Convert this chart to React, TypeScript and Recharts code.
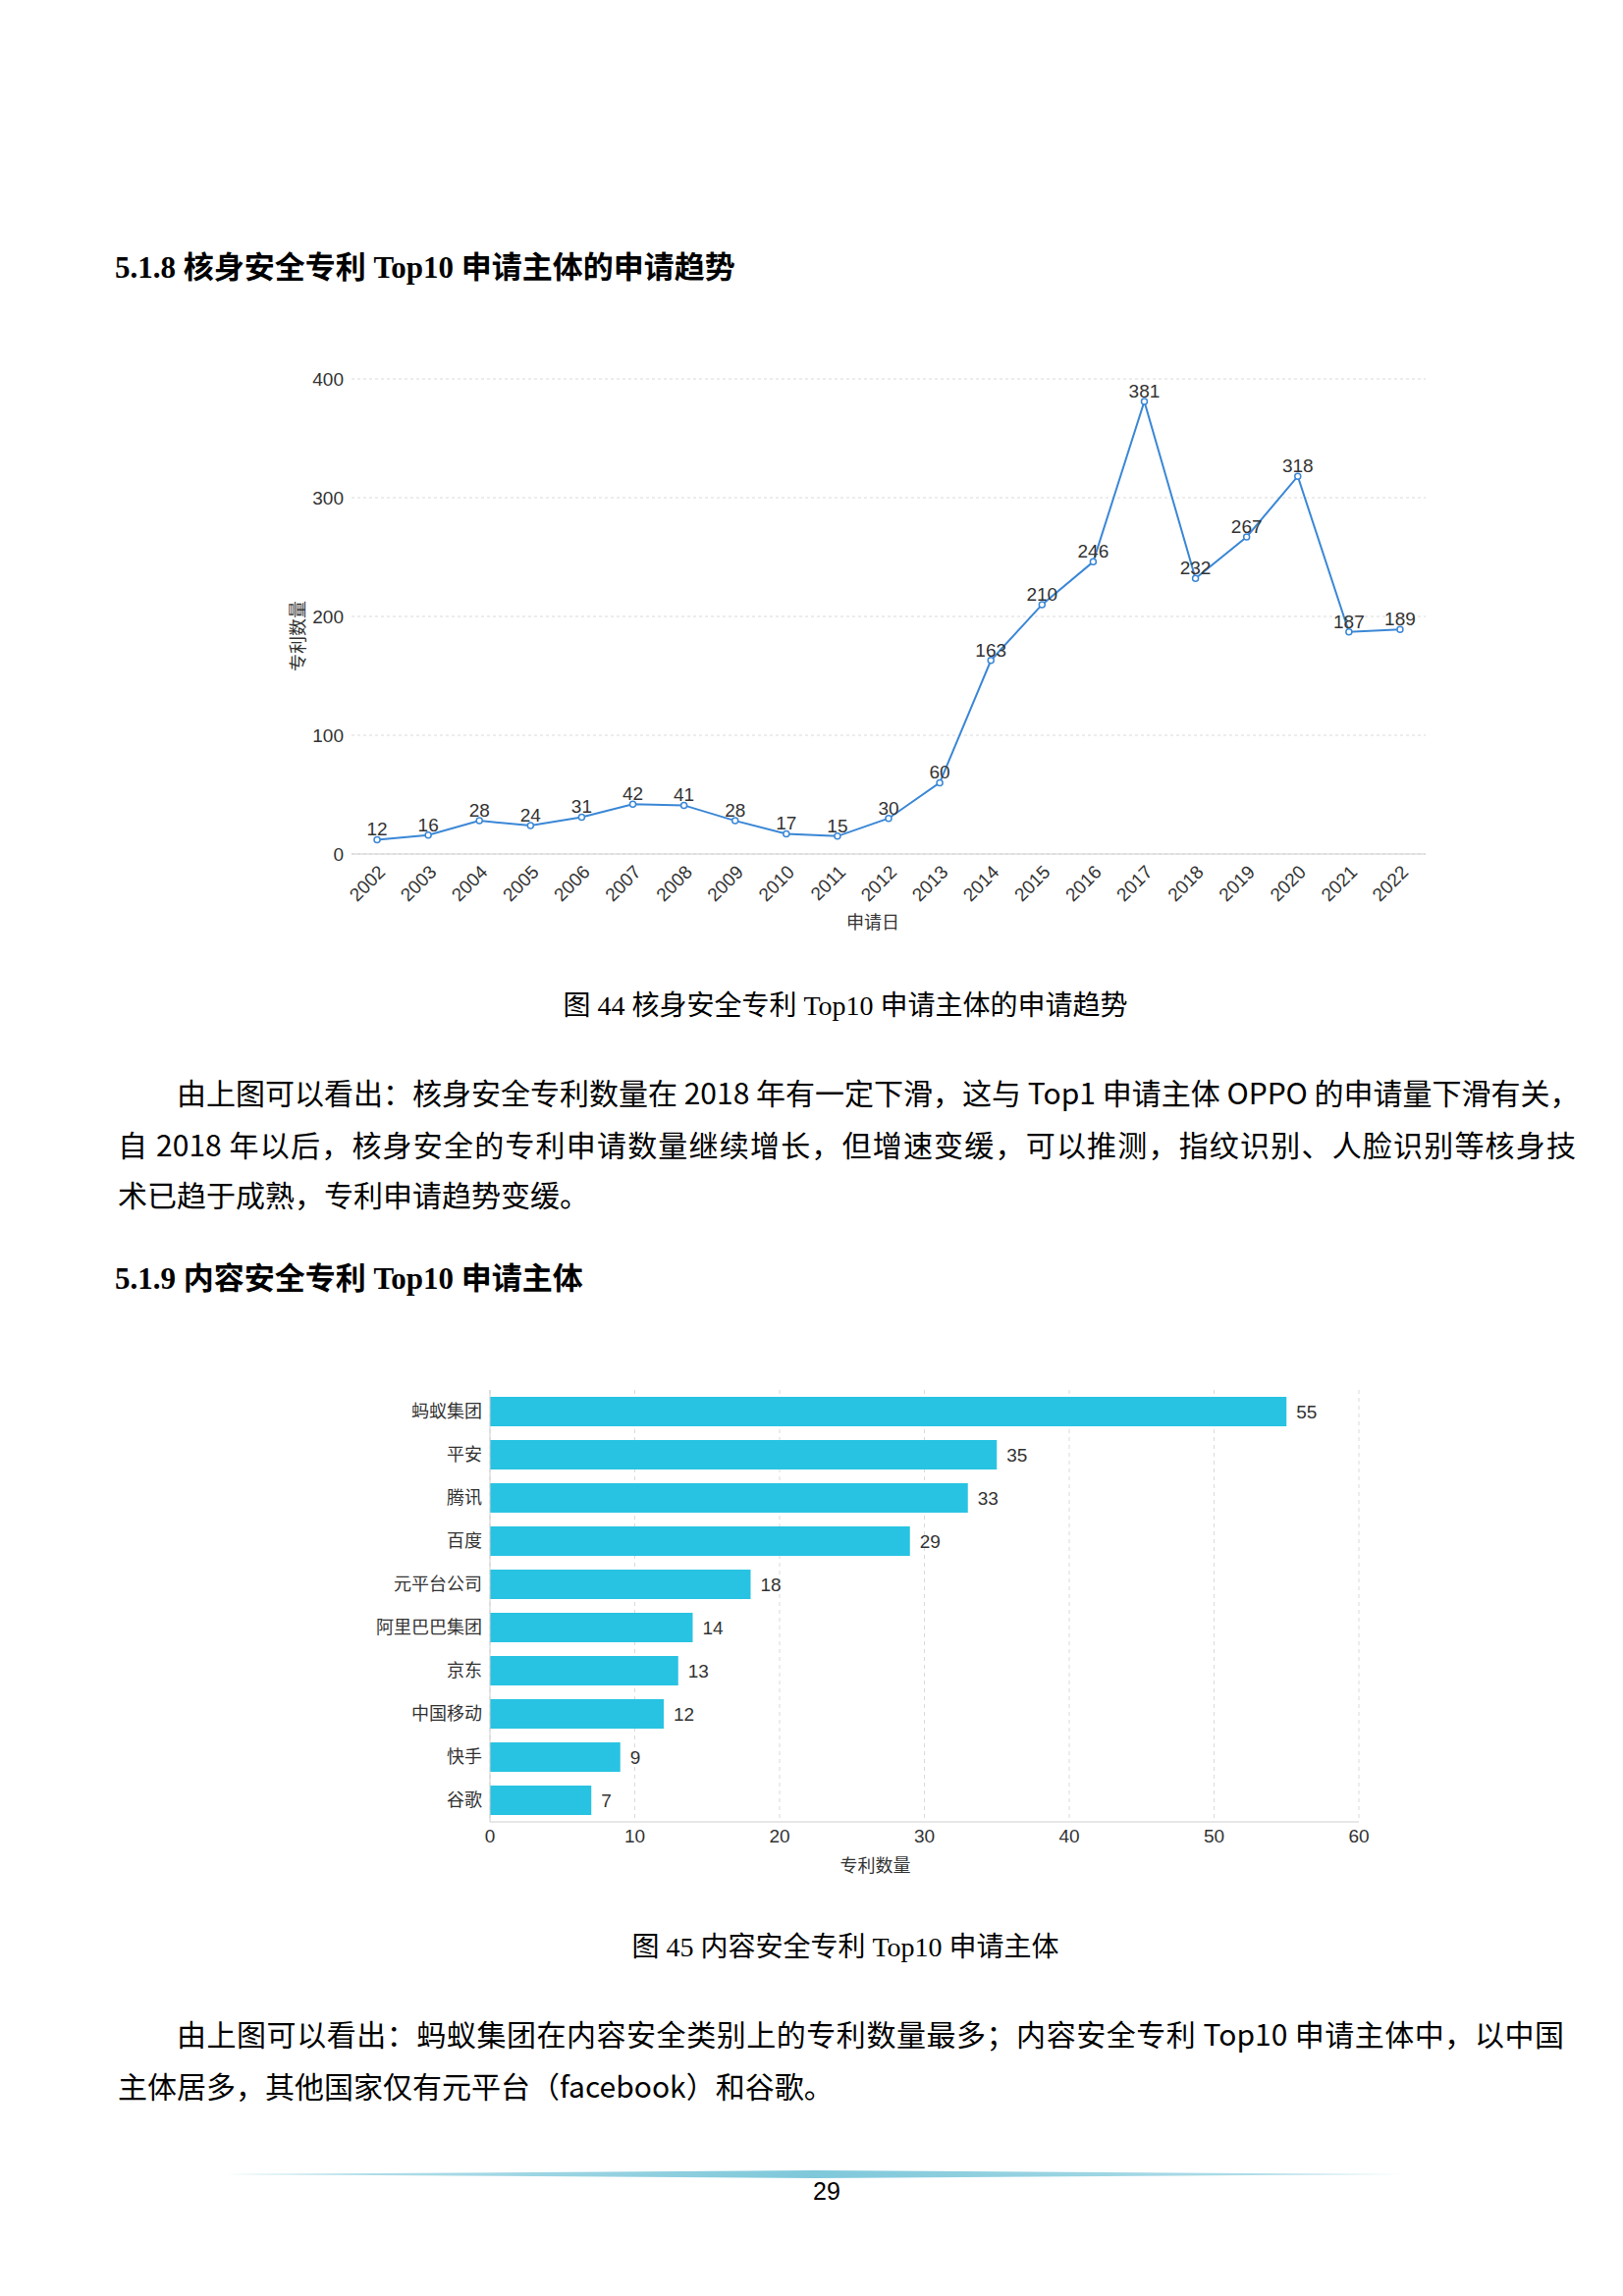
import React from 'react';
import {
  ComposedChart,
  Line,
  XAxis,
  YAxis,
  CartesianGrid,
  LabelList,
  BarChart,
  Bar,
} from 'recharts';

// ---- Chart 1: 核身安全专利 Top10 申请主体的申请趋势 ----
const years = [
  '2002', '2003', '2004', '2005', '2006', '2007', '2008', '2009', '2010', '2011',
  '2012', '2013', '2014', '2015', '2016', '2017', '2018', '2019', '2020', '2021', '2022',
];
const patentCounts = [12, 16, 28, 24, 31, 42, 41, 28, 17, 15, 30, 60, 163, 210, 246, 381, 232, 267, 318, 187, 189];
const trendTicks = [0, 100, 200, 300, 400];

// ---- Chart 2: 内容安全专利 Top10 申请主体 ----
const companies = ['蚂蚁集团', '平安', '腾讯', '百度', '元平台公司', '阿里巴巴集团', '京东', '中国移动', '快手', '谷歌'];
const companyCounts = [55, 35, 33, 29, 18, 14, 13, 12, 9, 7];
const countTicks = [0, 10, 20, 30, 40, 50, 60];

const trendData = years.map((y, i) => ({ year: y, count: patentCounts[i] }));
const companyData = companies.map((c, i) => ({ name: c, count: companyCounts[i] }));

const chartFont = '"Liberation Sans", Arial, "Noto Sans CJK SC", sans-serif';
const serifFont = '"Liberation Serif", "Times New Roman", "Noto Sans CJK SC", serif';
const bodyFont = '"Noto Sans CJK SC", "Liberation Sans", sans-serif';

const LINE_COLOR = '#3a87d6';
const BAR_COLOR = '#28c3e2';
const GRID_COLOR = '#dadada';
const AXIS_COLOR = '#cfcfcf';
const TEXT_COLOR = '#333333';

type TextLineProps = {
  top: number;
  left: number;
  width?: number;
  justify?: boolean;
  children: React.ReactNode;
};

const TextLine = ({ top, left, width, justify, children }: TextLineProps) => (
  <div
    style={{
      position: 'absolute',
      top,
      left,
      width,
      fontFamily: bodyFont,
      fontSize: 30,
      lineHeight: '52px',
      color: '#000',
      whiteSpace: 'nowrap',
      textAlign: justify ? 'justify' : 'left',
      textAlignLast: justify ? 'justify' : 'left',
    } as React.CSSProperties}
  >
    {children}
  </div>
);

const Heading = ({ top, children }: { top: number; children: React.ReactNode }) => (
  <div
    style={{
      position: 'absolute',
      top,
      left: 117,
      fontFamily: serifFont,
      fontWeight: 700,
      fontSize: 31,
      lineHeight: '40px',
      color: '#000',
      whiteSpace: 'nowrap',
    }}
  >
    {children}
  </div>
);

const Caption = ({ top, children }: { top: number; children: React.ReactNode }) => (
  <div
    style={{
      position: 'absolute',
      top,
      left: 0,
      width: 1722,
      textAlign: 'center',
      fontFamily: serifFont,
      fontSize: 28,
      lineHeight: '40px',
      color: '#000',
      whiteSpace: 'nowrap',
    }}
  >
    {children}
  </div>
);

const TrendChart = () => (
  <ComposedChart
    width={1653}
    height={640}
    data={trendData}
    margin={{ top: 46, right: 201, bottom: 80, left: 298 }}
  >
    <CartesianGrid vertical={false} stroke={GRID_COLOR} strokeDasharray="3 3" />
    <XAxis
      dataKey="year"
      scale="band"
      interval={0}
      tickLine={false}
      axisLine={{ stroke: AXIS_COLOR }}
      tick={{
        fontSize: 19,
        fill: TEXT_COLOR,
        angle: -45,
        textAnchor: 'end',
        verticalAnchor: 'middle',
        dy: 2,
        fontFamily: chartFont,
      }}
      label={{
        content: (p: any) => {
          const vb = p.viewBox || {};
          return (
            <text
              x={vb.x + vb.width / 2 - 16}
              y={vb.y + 70}
              textAnchor="middle"
              dominantBaseline="central"
              fontSize={18}
              fill={TEXT_COLOR}
              fontFamily={chartFont}
            >
              申请日
            </text>
          );
        },
      }}
    />
    <YAxis
      width={60}
      domain={[0, 400]}
      ticks={trendTicks}
      tickLine={false}
      axisLine={false}
      tick={{ fontSize: 19, fill: TEXT_COLOR, fontFamily: chartFont }}
      label={{
        content: (p: any) => {
          const vb = p.viewBox || {};
          const cx = vb.x + 6;
          const cy = vb.y + vb.height / 2 + 20;
          return (
            <text
              x={cx}
              y={cy}
              transform={`rotate(-90, ${cx}, ${cy})`}
              textAnchor="middle"
              dominantBaseline="central"
              fontSize={18}
              fill={TEXT_COLOR}
              fontFamily={chartFont}
            >
              专利数量
            </text>
          );
        },
      }}
    />
    <Line
      type="linear"
      dataKey="count"
      stroke={LINE_COLOR}
      strokeWidth={2}
      dot={{ r: 3, fill: '#fff', stroke: LINE_COLOR, strokeWidth: 1.5 }}
      isAnimationActive={false}
    >
      <LabelList dataKey="count" position="top" offset={4} fill={TEXT_COLOR} fontSize={19} fontFamily={chartFont} />
    </Line>
  </ComposedChart>
);

const CompanyChart = () => (
  <BarChart
    layout="vertical"
    width={1653}
    height={560}
    data={companyData}
    margin={{ top: 36, right: 269, bottom: 54, left: 399 }}
  >
    <CartesianGrid horizontal={false} stroke={GRID_COLOR} strokeDasharray="4 4" />
    <XAxis
      type="number"
      domain={[0, 60]}
      ticks={countTicks}
      tickLine={false}
      axisLine={{ stroke: AXIS_COLOR }}
      tick={{ fontSize: 19, fill: TEXT_COLOR, fontFamily: chartFont }}
      label={{
        content: (p: any) => {
          const vb = p.viewBox || {};
          return (
            <text
              x={vb.x + vb.width / 2 - 50}
              y={vb.y + 45}
              textAnchor="middle"
              dominantBaseline="central"
              fontSize={18}
              fill={TEXT_COLOR}
              fontFamily={chartFont}
            >
              专利数量
            </text>
          );
        },
      }}
    />
    <YAxis
      type="category"
      dataKey="name"
      width={100}
      tickLine={false}
      axisLine={{ stroke: AXIS_COLOR }}
      tick={{ fontSize: 18, fill: TEXT_COLOR, fontFamily: chartFont }}
    />
    <Bar dataKey="count" fill={BAR_COLOR} barSize={30} isAnimationActive={false}>
      <LabelList dataKey="count" position="right" offset={10} fill={TEXT_COLOR} fontSize={19} fontFamily={chartFont} />
    </Bar>
  </BarChart>
);

export default function App() {
  return (
    <div
      style={{
        position: 'absolute',
        left: 0,
        top: 0,
        width: 1653,
        height: 2339,
        background: '#fff',
        overflow: 'hidden',
      }}
    >
      <Heading top={253}>5.1.8 核身安全专利 Top10 申请主体的申请趋势</Heading>

      <div style={{ position: 'absolute', left: 0, top: 340 }}>
        <TrendChart />
      </div>

      <Caption top={1005}>图 44 核身安全专利 Top10 申请主体的申请趋势</Caption>

      <TextLine top={1086} left={180} width={1425} justify>
        由上图可以看出：核身安全专利数量在 2018 年有一定下滑，这与 Top1 申请主体 OPPO 的申请量下滑有关，
      </TextLine>
      <TextLine top={1139} left={120} width={1485} justify>
        自 2018 年以后，核身安全的专利申请数量继续增长，但增速变缓，可以推测，指纹识别、人脸识别等核身技
      </TextLine>
      <TextLine top={1190} left={120}>
        术已趋于成熟，专利申请趋势变缓。
      </TextLine>

      <Heading top={1283}>5.1.9 内容安全专利 Top10 申请主体</Heading>

      <div style={{ position: 'absolute', left: 0, top: 1380 }}>
        <CompanyChart />
      </div>

      <Caption top={1964}>图 45 内容安全专利 Top10 申请主体</Caption>

      <TextLine top={2045} left={180} width={1413} justify>
        由上图可以看出：蚂蚁集团在内容安全类别上的专利数量最多；内容安全专利 Top10 申请主体中，以中国
      </TextLine>
      <TextLine top={2098} left={120}>
        主体居多，其他国家仅有元平台（facebook）和谷歌。
      </TextLine>

      <div
        style={{
          position: 'absolute',
          left: 230,
          top: 2211,
          width: 1200,
          height: 8,
          background: 'linear-gradient(to right, rgba(126,200,218,0.5), #7ec8da 50%, rgba(126,200,218,0.5))',
          clipPath: 'polygon(0 50%, 50% 0, 100% 50%, 50% 100%)',
        }}
      />
      <div
        style={{
          position: 'absolute',
          left: 792,
          top: 2216,
          width: 100,
          textAlign: 'center',
          fontFamily: '"Liberation Sans", sans-serif',
          fontSize: 25,
          lineHeight: '32px',
          color: '#000',
        }}
      >
        29
      </div>
    </div>
  );
}
